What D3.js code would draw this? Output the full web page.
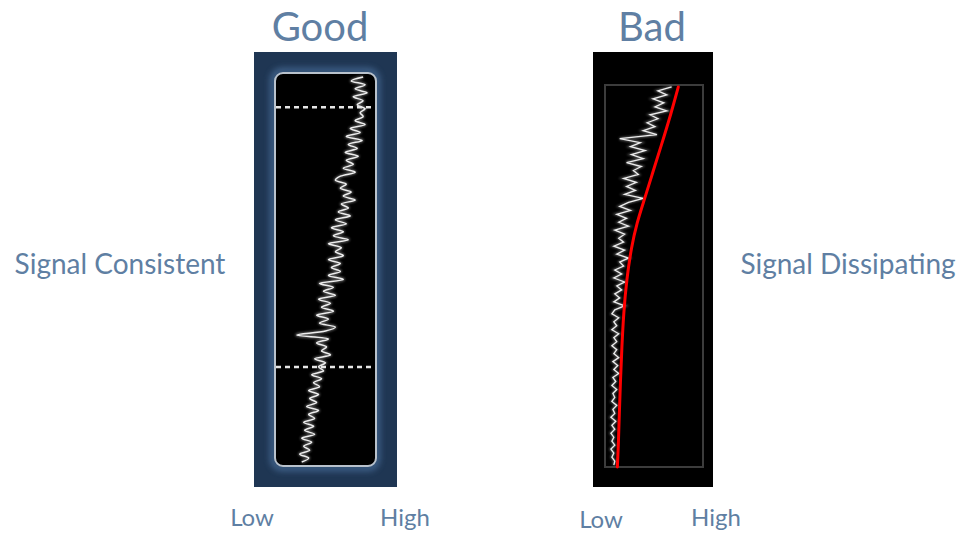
<!DOCTYPE html>
<html><head><meta charset="utf-8">
<script src="https://cdn.jsdelivr.net/npm/d3@7"></script>
<style>html,body{margin:0;padding:0;background:#fff;}svg{display:block;}</style>
</head><body>
<script>
// ---- data ----
const panelTitles = ["Good", "Bad"];
const sideLabels = ["Signal Consistent", "Signal Dissipating"];
const axisLabels = ["Low", "High"];

// signal strength (0 = Low, 100 = High), sampled evenly from top to bottom of the log
const goodSignal = [88,76,90,80,92,78,88,82,90,85,88,80,90,75,85,71,87,73,82,70,
  83,71,78,68,80,65,60,71,65,76,68,80,66,73,63,75,60,71,56,68,
  58,73,53,66,60,68,53,65,56,65,53,68,44,58,48,60,43,55,46,58,
  41,53,44,60,50,21,53,41,51,46,55,39,50,43,48,36,46,38,44,33,
  43,34,41,31,43,33,39,28,38,29,39,26,36,28,34,24,33,26];
const goodMarkers = [8.7, 74.8];   // depth of dashed lines

const badSignal = [68,54,63,49,60,51,63,46,54,43,51,39,53,15,36,26,41,27,39,22,
  37,29,34,19,32,22,31,20,39,24,15,26,12,22,14,24,10,20,14,19,
  9,20,12,24,15,19,10,17,9,20,12,17,10,15,9,20,10,7,14,9,
  12,7,14,9,12,7,12,9,14,8,13,9,14,8,11,7,12,8,10,7,
  12,8,10,6,11,7,10,6,9,7,10,6,9,7,10,9];
const trendDepth  = [0.5,7.4,16.2,23.1,30.1,36.1,42.3,51,59.8,68.5,77.2,85.9,94.7,100];
const trendSignal = [74.8,67.5,57,48.5,40,32.5,27,22,19,17.2,15.8,14.6,13.6,12.6];

// ---- drawing ----
const W = 966, H = 533;
const svg = d3.select("body").append("svg").attr("width", W).attr("height", H);
svg.append("rect").attr("width", W).attr("height", H).attr("fill", "#fff");
const defs = svg.append("defs");
defs.append("filter").attr("id","glow").attr("x","-20%").attr("y","-20%").attr("width","140%").attr("height","140%")
  .append("feGaussianBlur").attr("stdDeviation", 3);
defs.append("filter").attr("id","soft").attr("x","-20%").attr("y","-5%").attr("width","140%").attr("height","110%")
  .append("feGaussianBlur").attr("stdDeviation", 1.2);

const textColor = "#5f7fa3";
const font = "Lato, 'Open Sans', sans-serif";

// Good panel
const gx = d3.scaleLinear().domain([0,100]).range([276,375]);
const gy = d3.scaleLinear().domain([0,100]).range([73,466]);
svg.append("rect").attr("x",254).attr("y",52).attr("width",143).attr("height",435).attr("fill","#1f3653");
svg.append("rect").attr("x",273).attr("y",71).attr("width",104).attr("height",397).attr("rx",9)
  .attr("fill","none").attr("stroke","#4d73a0").attr("stroke-width",6).attr("opacity",0.75).attr("filter","url(#glow)");
svg.append("rect").attr("x",gx(0)-1).attr("y",gy(0)).attr("width",gx(100)-gx(0)+2).attr("height",gy(100)-gy(0)).attr("rx",8)
  .attr("fill","#000").attr("stroke","#b9c2cc").attr("stroke-width",2);

const goodPts = goodSignal.map((v,i) => [v, 1 + i*98/(goodSignal.length-1)]);
const gLine = d3.line().x(d => gx(d[0])).y(d => gy(d[1])).curve(d3.curveCatmullRom.alpha(0.5));
svg.append("path").attr("d", gLine(goodPts)).attr("fill","none").attr("stroke","#8a8a8a")
  .attr("stroke-width",3.5).attr("opacity",0.6).attr("filter","url(#soft)");
svg.append("path").attr("d", gLine(goodPts)).attr("fill","none").attr("stroke","#eeeeee").attr("stroke-width",1.5);

svg.selectAll("line.mk").data(goodMarkers).join("line").attr("class","mk")
  .attr("x1", gx(0)).attr("x2", gx(100)).attr("y1", d => gy(d)).attr("y2", d => gy(d))
  .attr("stroke","#e6e6e6").attr("stroke-width",2.5).attr("stroke-dasharray","5,4");

// Bad panel
const bx = d3.scaleLinear().domain([0,100]).range([605,703]);
const by = d3.scaleLinear().domain([0,100]).range([85,467]);
svg.append("rect").attr("x",593).attr("y",52).attr("width",120).attr("height",435).attr("fill","#000");
svg.append("rect").attr("x",bx(0)).attr("y",by(0)).attr("width",bx(100)-bx(0)).attr("height",by(100)-by(0))
  .attr("fill","none").attr("stroke","#3c3c3c").attr("stroke-width",2);

const badPts = badSignal.map((v,i) => [v, 0.5 + i*99/(badSignal.length-1)]);
const bLine = d3.line().x(d => bx(d[0])).y(d => by(d[1]));
svg.append("path").attr("d", bLine(badPts)).attr("fill","none").attr("stroke","#8a8a8a")
  .attr("stroke-width",3).attr("opacity",0.6).attr("filter","url(#soft)");
svg.append("path").attr("d", bLine(badPts)).attr("fill","none").attr("stroke","#ededed").attr("stroke-width",1.3);

const trendPts = trendSignal.map((v,i) => [v, trendDepth[i]]);
svg.append("path").attr("d", d3.line().x(d => bx(d[0])).y(d => by(d[1])).curve(d3.curveBasis)(trendPts))
  .attr("fill","none").attr("stroke","#ff0000").attr("stroke-width",3).attr("stroke-linecap","round");

// Text
const titleX = [320, 652];
svg.selectAll("text.title").data(panelTitles).join("text").attr("class","title")
  .attr("x",(d,i)=>titleX[i]).attr("y",41).attr("text-anchor","middle")
  .attr("font-family",font).attr("font-size",40).attr("fill",textColor).text(d=>d);

const sideX = [120, 848];
svg.selectAll("text.side").data(sideLabels).join("text").attr("class","side")
  .attr("x",(d,i)=>sideX[i]).attr("y",274).attr("text-anchor","middle")
  .attr("font-family",font).attr("font-size",28).attr("fill",textColor).text(d=>d);

const axisPos = [[252,526,"Low"],[405,526,"High"],[601,528,"Low"],[716,526,"High"]];
svg.selectAll("text.ax").data(axisPos).join("text").attr("class","ax")
  .attr("x",d=>d[0]).attr("y",d=>d[1]).attr("text-anchor","middle")
  .attr("font-family",font).attr("font-size",24).attr("fill",textColor)
  .text((d,i)=>axisLabels[i%2]);
</script>
</body></html>
